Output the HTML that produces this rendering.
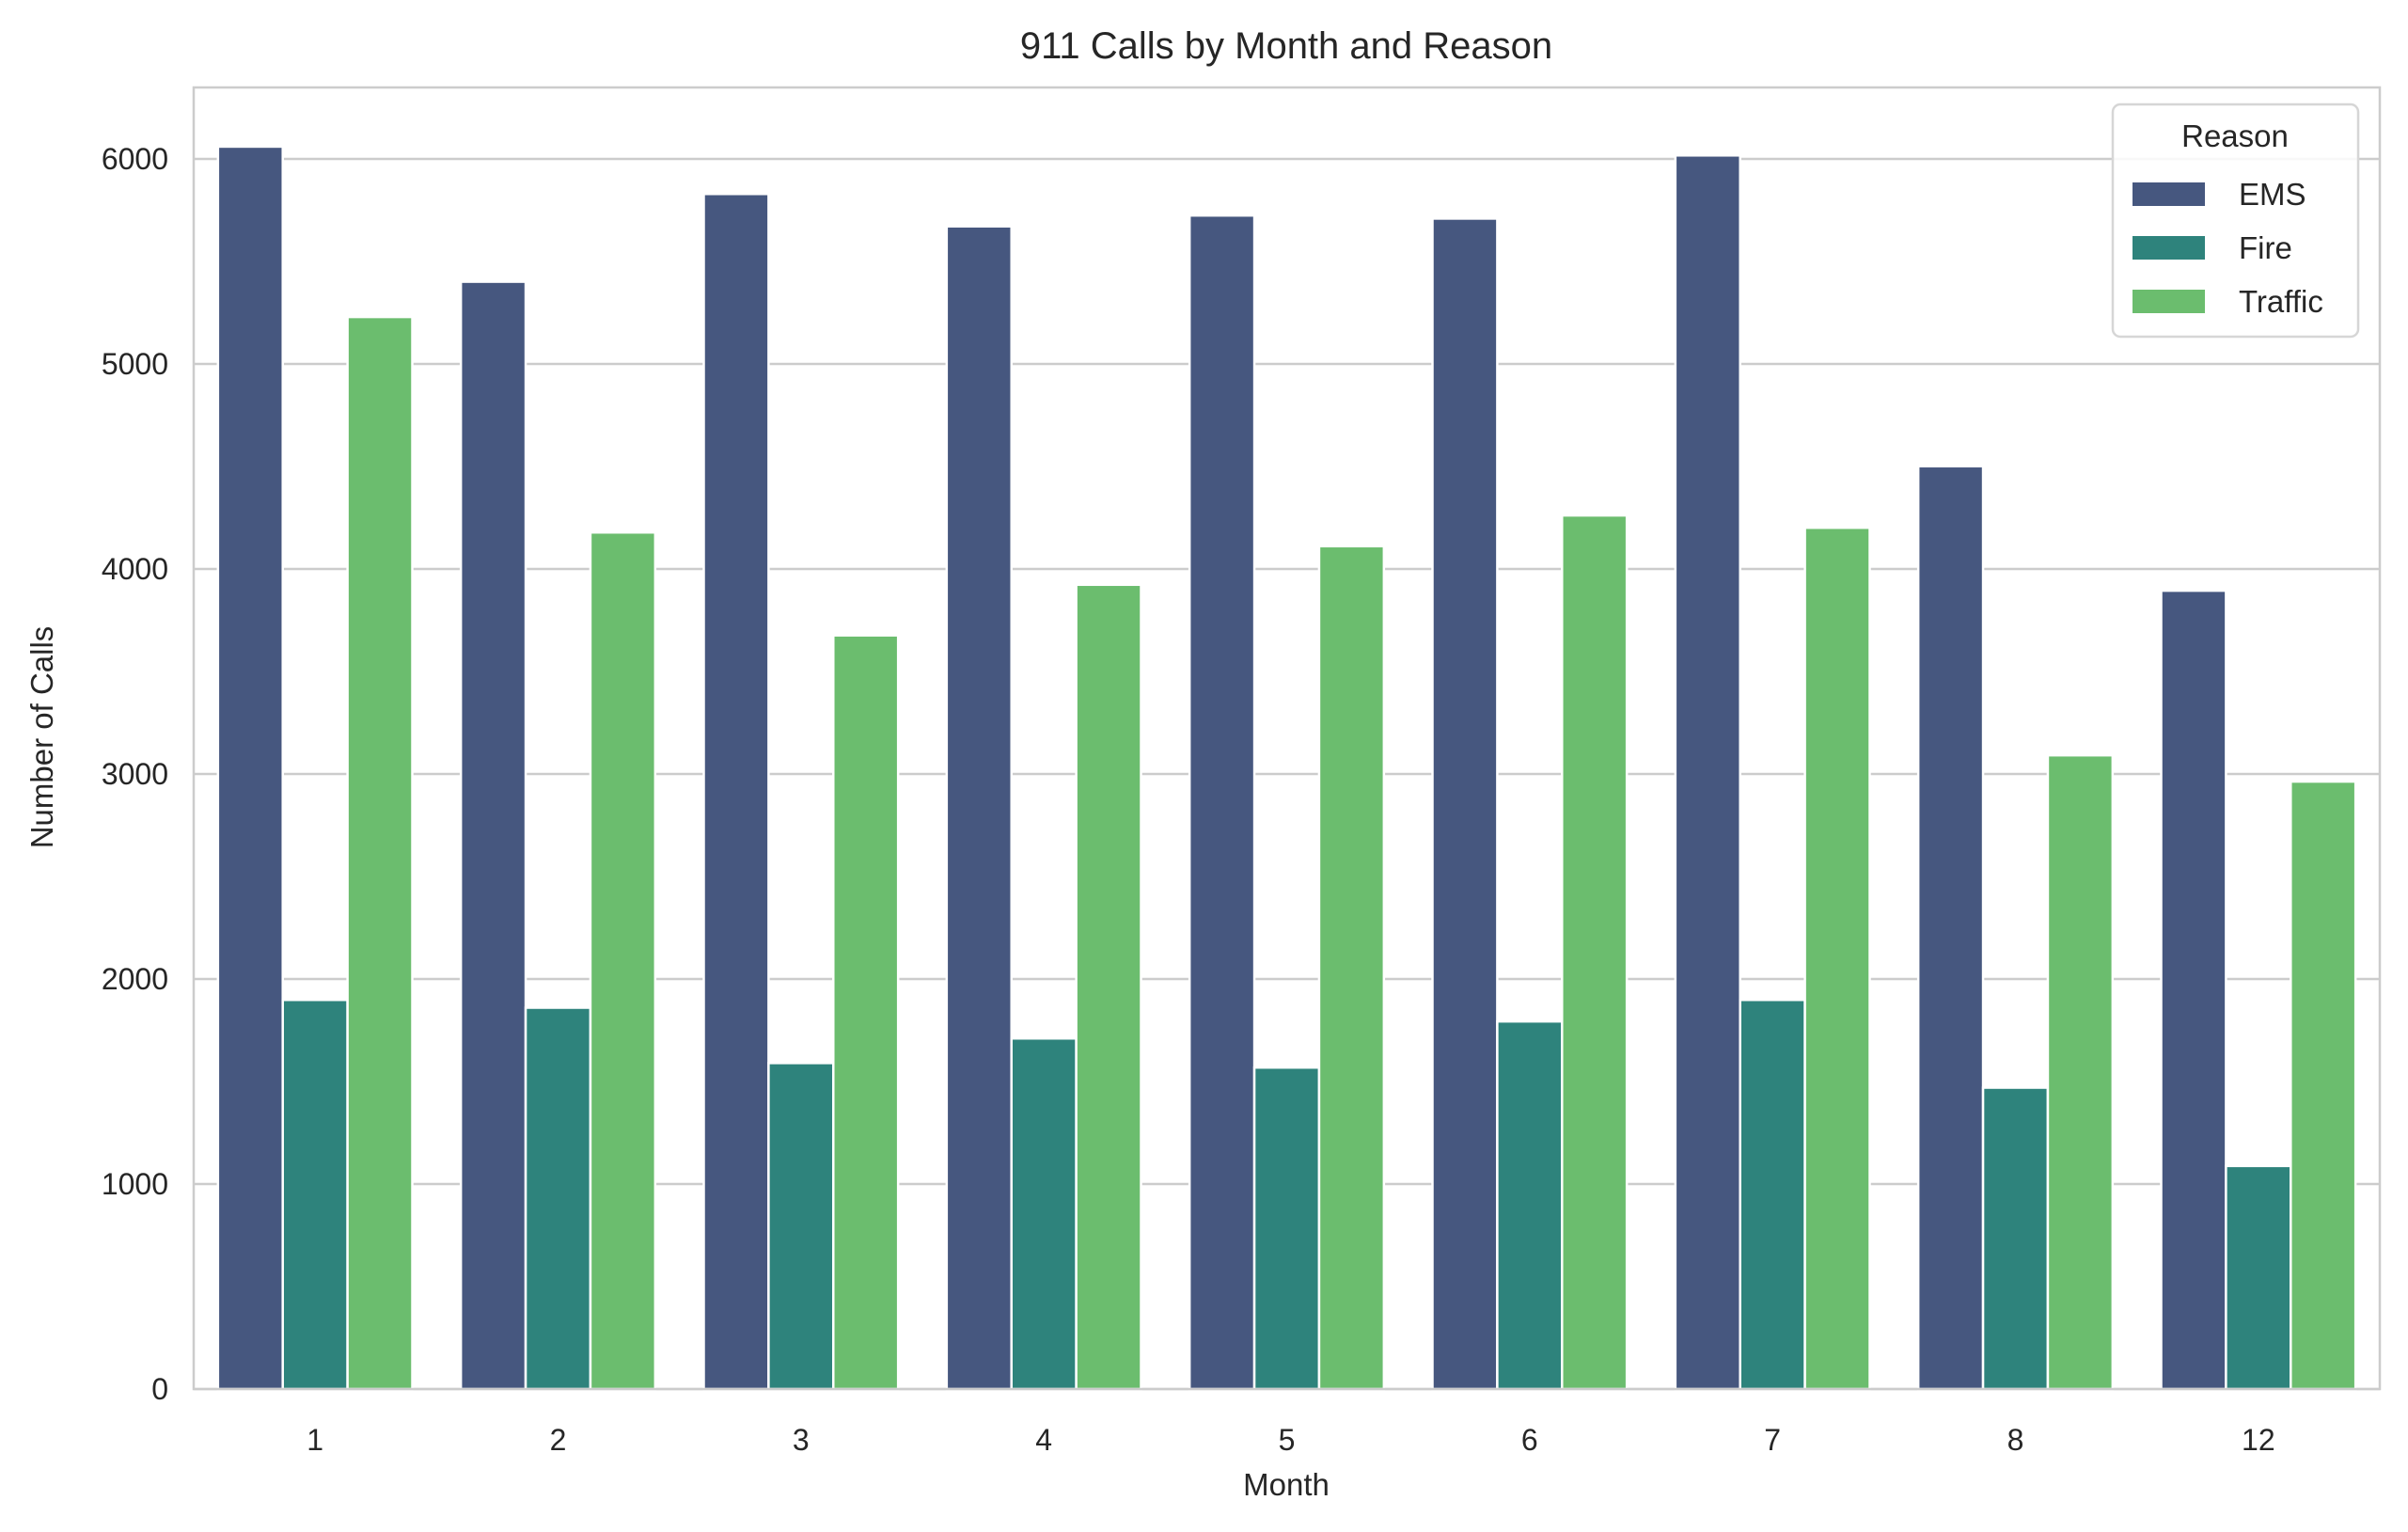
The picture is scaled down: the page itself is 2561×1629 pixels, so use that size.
<!DOCTYPE html>
<html><head><meta charset="utf-8"><style>
html,body{margin:0;padding:0;background:#fff;}
svg{display:block;font-family:"Liberation Sans",Arial,sans-serif;}
</style></head><body>
<svg id="chart" width="2561" height="1629" viewBox="0 0 2561 1629">
<rect x="0" y="0" width="2561" height="1629" fill="#fff"/>
<text x="1368" y="62" font-size="40" text-anchor="middle" fill="#262626">911 Calls by Month and Reason</text>
<g id="grid"></g>
<g id="bars"></g>
<rect x="206" y="93" width="2325" height="1384" fill="none" stroke="#cccccc" stroke-width="2.5"/>
<g id="xt"></g>
<g id="yt"></g>
<text x="1368" y="1590" font-size="33" text-anchor="middle" fill="#262626">Month</text>
<text x="0" y="0" font-size="33" text-anchor="middle" fill="#262626" transform="translate(56,784) rotate(-90)">Number of Calls</text>
<g id="legend">
<rect x="2247" y="111" width="261" height="247" rx="8" fill="#fff" fill-opacity="0.85" stroke="#d6d6d6" stroke-width="2.5"/>
<text x="2377" y="156" font-size="33" text-anchor="middle" fill="#262626">Reason</text>
</g>
</svg>
<script>
const categories = ["1","2","3","4","5","6","7","8","12"];
const seriesNames = ["EMS","Fire","Traffic"];
const emsValues = [6060,5401,5829,5671,5724,5709,6017,4501,3894];
const fireValues = [1898,1860,1590,1710,1568,1793,1898,1470,1088];
const trafficValues = [5229,4178,3676,3923,4111,4261,4201,3091,2963];
const yTicks = [0,1000,2000,3000,4000,5000,6000];

const colors = ["#46577f","#2e837c","#6bbd6e"];
const series = [emsValues, fireValues, trafficValues];
const NS = "http://www.w3.org/2000/svg";
const L = 206, R = 2531, B = 1477;
const catW = (R - L) / categories.length;
function xScale(i){ return L + catW * (i + 0.5); }
function yScale(v){ return B - v * 0.218; }
function mk(tag, attrs, parent){
  const e = document.createElementNS(NS, tag);
  for (const k in attrs) e.setAttribute(k, attrs[k]);
  parent.appendChild(e);
  return e;
}
const grid = document.getElementById('grid');
const yt = document.getElementById('yt');
yTicks.forEach(t => {
  const y = yScale(t);
  const ln = mk('line', {x1:L, x2:R, y1:y, y2:y, stroke:'#cccccc', 'stroke-width':2.5}, grid);
  
  
  const tx = mk('text', {x:179, y:y+11, 'font-size':32, 'text-anchor':'end', fill:'#262626'}, yt);
  tx.textContent = t;
  
  
});
const bars = document.getElementById('bars');
const bw = catW * 0.8 / 3;
series.forEach((vals, s) => {
  vals.forEach((v, i) => {
    const x0 = xScale(i) - catW * 0.4 + s * bw;
    const r = mk('rect', {x:x0, y:yScale(v), width:bw, height:B - yScale(v), fill:colors[s], stroke:'#ffffff', 'stroke-width':2.5}, bars);
    
    
  });
});
const xt = document.getElementById('xt');
categories.forEach((c, i) => {
  const tx = mk('text', {x:xScale(i), y:1542, 'font-size':32, 'text-anchor':'middle', fill:'#262626'}, xt);
  tx.textContent = c;
  
  
});
const lg = document.getElementById('legend');
seriesNames.forEach((n, s) => {
  const y = 206 + s * 57;
  const p = mk('rect', {x:2268, y:y-12, width:77, height:25, fill:colors[s]}, lg);
  
  
  const t = mk('text', {x:2381, y:y+12, 'font-size':33, fill:'#262626'}, lg);
  t.textContent = n;
  
  
});
</script>
</body></html>
